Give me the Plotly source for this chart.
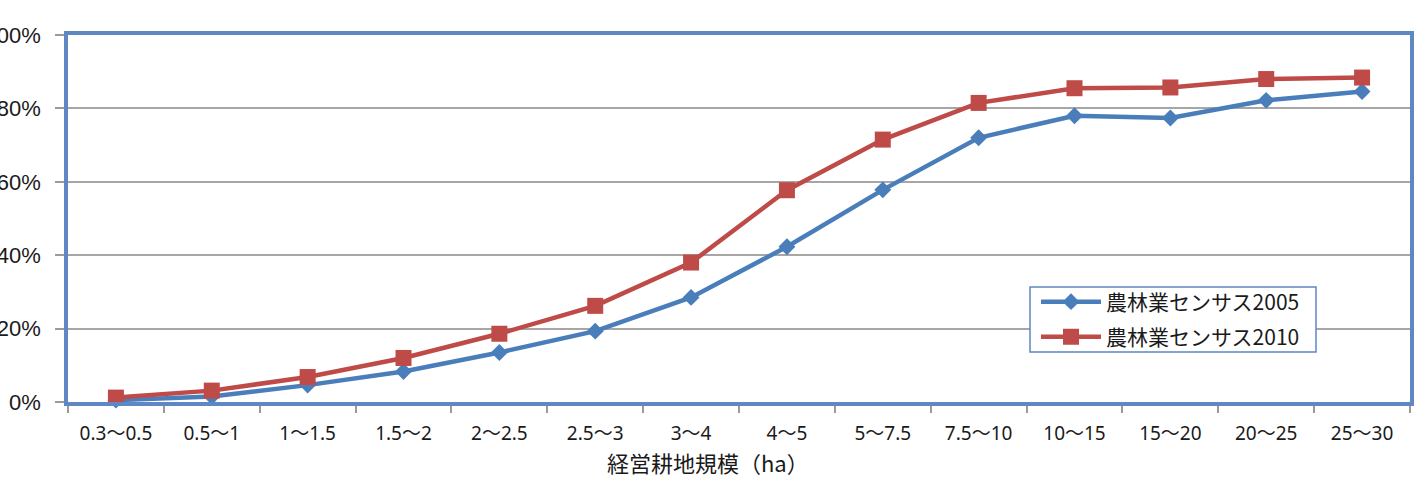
import plotly.graph_objects as go

categories = ["0.3～0.5", "0.5～1", "1～1.5", "1.5～2", "2～2.5", "2.5～3", "3～4",
              "4～5", "5～7.5", "7.5～10", "10～15", "15～20", "20～25", "25～30"]
census_2005 = [0.005, 0.015, 0.046, 0.083, 0.135, 0.193, 0.285,
               0.423, 0.578, 0.720, 0.780, 0.774, 0.822, 0.846]
census_2010 = [0.012, 0.031, 0.068, 0.120, 0.186, 0.262, 0.380,
               0.577, 0.715, 0.815, 0.855, 0.857, 0.880, 0.884]
name_2005 = "農林業センサス2005"
name_2010 = "農林業センサス2010"
x_title = "経営耕地規模（ha）"
y_ticks = [0, 0.2, 0.4, 0.6, 0.8, 1.0]

BLUE = "#4A7EBB"
RED = "#BE4B48"
BORDER = "#5F87C3"

W, H = 1416, 492
L, R, T, B = 68, 6, 35, 90
pw = W - L - R
ph = H - T - B

def px_x(p):
    return (p - L) / pw

def px_y(p):
    return (H - B - p) / ph

fig = go.Figure()
fig.add_trace(go.Scatter(
    x=categories, y=census_2005, name=name_2005, mode="lines+markers",
    line=dict(color=BLUE, width=4.5),
    marker=dict(symbol="diamond", size=13, color=BLUE),
    cliponaxis=False, legend="legend",
))
fig.add_trace(go.Scatter(
    x=categories, y=census_2010, name=name_2010, mode="lines+markers",
    line=dict(color=RED, width=4.5),
    marker=dict(symbol="square", size=16, color=RED),
    cliponaxis=False, legend="legend2",
))

# legend box
fig.add_shape(type="rect", xref="paper", yref="paper",
              x0=px_x(1030), x1=px_x(1316), y0=px_y(352), y1=px_y(287),
              line=dict(color=BORDER, width=1.5), fillcolor="white", layer="above")

# x-axis title (placed as in the reference, slightly left of centre)
fig.add_annotation(text=x_title, xref="paper", yref="paper",
                   x=px_x(708), y=px_y(462), xanchor="center", yanchor="middle",
                   showarrow=False,
                   font=dict(family="Noto Sans CJK JP", size=22, color="#1a1a1a"))

legend_font = dict(family="Noto Sans CJK JP", size=21, color="#1a1a1a")
fig.update_layout(
    width=W, height=H,
    margin=dict(l=L, r=R, t=T, b=B, autoexpand=False),
    paper_bgcolor="white", plot_bgcolor="white",
    showlegend=True,
    legend=dict(x=px_x(1036), y=px_y(302), xanchor="left", yanchor="middle",
                bgcolor="rgba(0,0,0,0)", font=legend_font, itemwidth=60,
                borderwidth=0),
    legend2=dict(x=px_x(1036), y=px_y(337), xanchor="left", yanchor="middle",
                 bgcolor="rgba(0,0,0,0)", font=legend_font, itemwidth=60,
                 borderwidth=0),
    xaxis=dict(
        type="category", range=[-0.5, len(categories) - 0.5],
        tickson="boundaries", ticks="outside", ticklen=7, tickcolor="#9A9A9A",
        tickwidth=1.5,
        showgrid=False, showline=True, linecolor=BORDER, linewidth=3.5, mirror=True,
        tickfont=dict(family="Noto Sans, Noto Sans CJK JP", size=19, color="#1a1a1a"),
        ticklabelstandoff=11,
        automargin=False,
    ),
    yaxis=dict(
        range=[0, 1], tickvals=y_ticks, tickformat=".0%",
        ticks="outside", ticklen=9, tickcolor="#9A9A9A", tickwidth=1.5,
        showgrid=True, gridcolor="#A6A6A6", gridwidth=2,
        showline=True, linecolor=BORDER, linewidth=3.5, mirror=True,
        zeroline=False,
        tickfont=dict(family="Liberation Sans", size=22, color="#1a1a1a"),
        ticklabelstandoff=10,
        automargin=False,
    ),
)

fig.write_html("out.html")
